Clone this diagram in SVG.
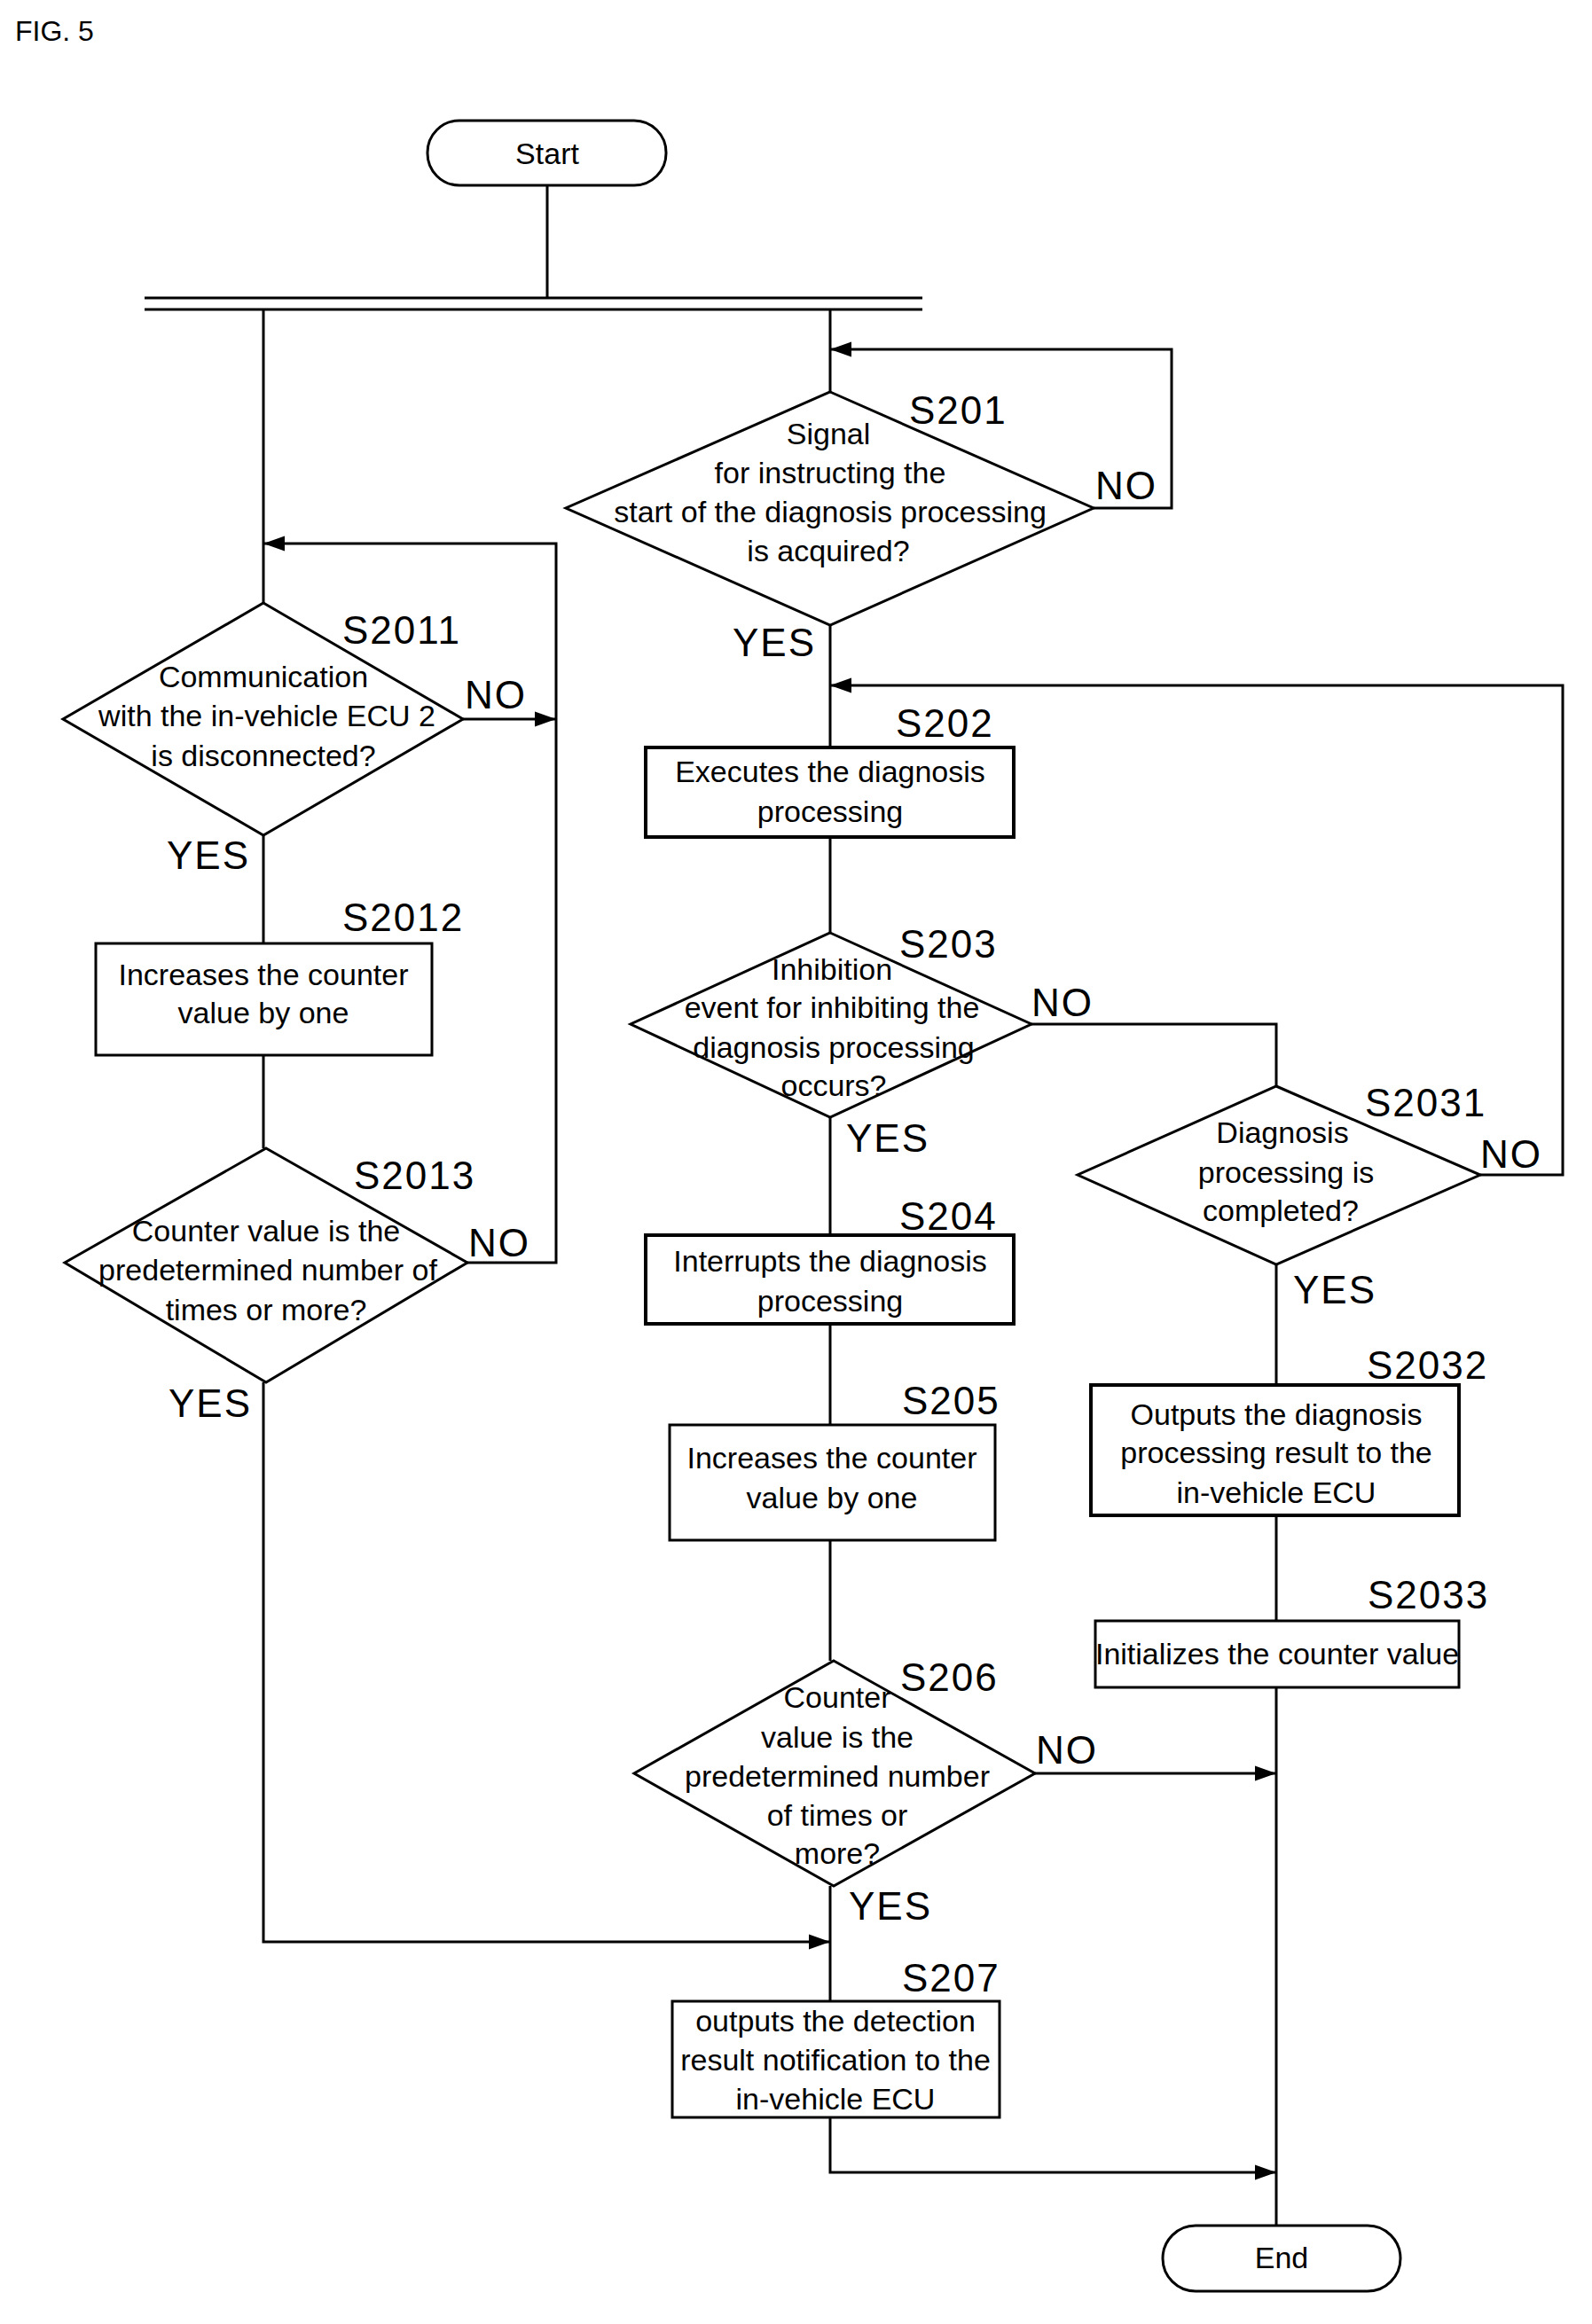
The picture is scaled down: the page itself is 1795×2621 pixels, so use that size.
<svg xmlns="http://www.w3.org/2000/svg" width="1795" height="2621" viewBox="0 0 1795 2621">
<style>
.s{fill:#fff;stroke:#000;stroke-width:3}
.b{fill:#fff;stroke:#000;stroke-width:4}
.c{fill:none;stroke:#000;stroke-width:3}
.t{font-family:"Liberation Sans Narrow","Liberation Sans",Arial,sans-serif;font-size:34px;text-anchor:middle}
.l{font-family:"Liberation Sans",Arial,sans-serif;font-size:44px;letter-spacing:2px}
</style>
<defs><marker id="a" viewBox="0 0 10 10" refX="10" refY="5" markerWidth="9" markerHeight="9" markerUnits="userSpaceOnUse" orient="auto"><path d="M0,0L10,5L0,10z"/></marker>
<marker id="A" viewBox="0 0 10 10" refX="10" refY="5" markerWidth="24" markerHeight="24" markerUnits="userSpaceOnUse" orient="auto"><path d="M0,1.5L10,5L0,8.5z"/></marker></defs>
<rect width="1795" height="2621" fill="#fff"/>
<text x="17" y="46" class="t" style="text-anchor:start;font-size:32px">FIG. 5</text>
<g id="connectors">
<path class="c" d="M617,209V336M163,336H1040M163,349H1040M297,349V680M936,349V442"/>
<path class="c" d="M1233,573H1321V394H936" marker-end="url(#A)"/>
<path class="c" d="M936,705V843M936,944V1052M936,1260V1393M936,1493V1607M936,1737V1873M936,2127V2257"/>
<path class="c" d="M1163,1155H1439V1225"/>
<path class="c" d="M1669,1325H1762V773H936" marker-end="url(#A)"/>
<path class="c" d="M1439,1426V1562M1439,1709V1828M1439,1903V2510"/>
<path class="c" d="M1167,2000H1439" marker-end="url(#A)"/>
<path class="c" d="M936,2388V2450H1439" marker-end="url(#A)"/>
<path class="c" d="M522,811H627" marker-end="url(#A)"/>
<path class="c" d="M527,1424H627V613H297" marker-end="url(#A)"/>
<path class="c" d="M297,942V1064M297,1190V1295"/>
<path class="c" d="M297,1559V2190H936" marker-end="url(#A)"/>
</g>
<g id="start"><rect class="s" x="482" y="136" width="269" height="73" rx="36"/><text class="t" x="617" y="185">Start</text></g>
<g id="S201"><polygon class="s" points="936,442 1233,573 936,705 638,573"/>
<text class="t" x="934" y="501">Signal</text><text class="t" x="936" y="545">for instructing the</text><text class="t" x="936" y="589">start of the diagnosis processing</text><text class="t" x="934" y="633">is acquired?</text>
<text class="l" x="1025" y="478">S201</text><text class="l" x="1235" y="563">NO</text><text class="l" x="826" y="740">YES</text></g>
<g id="S202"><rect class="b" x="728" y="843" width="415" height="101"/><text class="t" x="936" y="882">Executes the diagnosis</text><text class="t" x="936" y="927">processing</text><text class="l" x="1010" y="831">S202</text></g>
<g id="S203"><polygon class="s" points="936,1052 1163,1155 936,1260 711,1155"/>
<text class="t" x="938" y="1105">Inhibition</text><text class="t" x="938" y="1148">event for inhibiting the</text><text class="t" x="940" y="1193">diagnosis processing</text><text class="t" x="940" y="1236">occurs?</text>
<text class="l" x="1014" y="1080">S203</text><text class="l" x="1163" y="1146">NO</text><text class="l" x="954" y="1299">YES</text></g>
<g id="S2031"><polygon class="s" points="1439,1225 1669,1325 1439,1426 1215,1325"/>
<text class="t" x="1446" y="1289">Diagnosis</text><text class="t" x="1450" y="1334">processing is</text><text class="t" x="1444" y="1377">completed?</text>
<text class="l" x="1539" y="1259">S2031</text><text class="l" x="1669" y="1317">NO</text><text class="l" x="1458" y="1470">YES</text></g>
<g id="S204"><rect class="b" x="728" y="1393" width="415" height="100"/><text class="t" x="936" y="1434">Interrupts the diagnosis</text><text class="t" x="936" y="1479">processing</text><text class="l" x="1014" y="1387">S204</text></g>
<g id="S205"><rect class="s" x="755" y="1607" width="367" height="130"/><text class="t" x="938" y="1656">Increases the counter</text><text class="t" x="938" y="1701">value by one</text><text class="l" x="1017" y="1595">S205</text></g>
<g id="S206"><polygon class="s" points="940,1873 1167,2000 940,2127 715,2000"/>
<text class="t" x="944" y="1926">Counter</text><text class="t" x="944" y="1971">value is the</text><text class="t" x="944" y="2015">predetermined number</text><text class="t" x="944" y="2059">of times or</text><text class="t" x="944" y="2102">more?</text>
<text class="l" x="1015" y="1907">S206</text><text class="l" x="1168" y="1989">NO</text><text class="l" x="957" y="2165">YES</text></g>
<g id="S207"><rect class="s" x="758" y="2257" width="369" height="131"/><text class="t" x="942" y="2291">outputs the detection</text><text class="t" x="942" y="2335">result notification to the</text><text class="t" x="942" y="2379">in-vehicle ECU</text><text class="l" x="1017" y="2246">S207</text></g>
<g id="S2032"><rect class="b" x="1230" y="1562" width="415" height="147"/><text class="t" x="1439" y="1607">Outputs the diagnosis</text><text class="t" x="1439" y="1650">processing result to the</text><text class="t" x="1439" y="1695">in-vehicle ECU</text><text class="l" x="1541" y="1555">S2032</text></g>
<g id="S2033"><rect class="s" x="1235" y="1828" width="410" height="75"/><text class="t" x="1440" y="1877">Initializes the counter value</text><text class="l" x="1542" y="1814">S2033</text></g>
<g id="end"><rect class="s" x="1311" y="2510" width="268" height="74" rx="37"/><text class="t" x="1445" y="2558">End</text></g>
<g id="S2011"><polygon class="s" points="297,680 522,811 297,942 71,811"/>
<text class="t" x="297" y="775">Communication</text><text class="t" x="301" y="819">with the in-vehicle ECU 2</text><text class="t" x="297" y="864">is disconnected?</text>
<text class="l" x="386" y="726">S2011</text><text class="l" x="524" y="799">NO</text><text class="l" x="188" y="980">YES</text></g>
<g id="S2012"><rect class="s" x="108" y="1064" width="379" height="126"/><text class="t" x="297" y="1111">Increases the counter</text><text class="t" x="297" y="1154">value by one</text><text class="l" x="386" y="1050">S2012</text></g>
<g id="S2013"><polygon class="s" points="300,1295 527,1424 300,1559 73,1424"/>
<text class="t" x="300" y="1400">Counter value is the</text><text class="t" x="302" y="1444">predetermined number of</text><text class="t" x="300" y="1489">times or more?</text>
<text class="l" x="399" y="1341">S2013</text><text class="l" x="528" y="1417">NO</text><text class="l" x="190" y="1598">YES</text></g>
</svg>
